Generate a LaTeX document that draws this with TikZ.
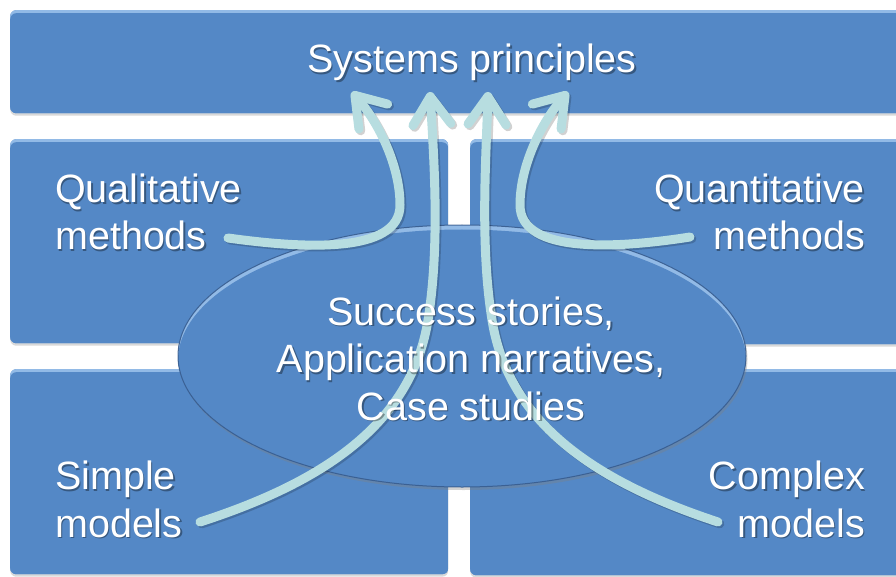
\documentclass[tikz,border=0pt]{standalone}
\usepackage{fontspec}
\setmainfont{Liberation Sans}
\usetikzlibrary{arrows.meta,shadows,shapes.geometric}

\definecolor{panel}{RGB}{84,136,198}
\definecolor{panelhi}{RGB}{146,186,230}
\definecolor{panelrim}{RGB}{52,88,138}
\definecolor{flowc}{RGB}{183,221,224}

\tikzset{
  panelbox/.style={fill=panel, rounded corners=6pt, anchor=north west,
    drop shadow={shadow xshift=0pt, shadow yshift=-2.5pt, opacity=0.3},
    path picture={
      \fill[panelhi] (path picture bounding box.south west) rectangle (path picture bounding box.north east);
      \fill[panel, rounded corners=6pt] ([yshift=-3pt]path picture bounding box.south west) rectangle ([yshift=-3pt]path picture bounding box.north east);
    }},
  corebox/.style={ellipse, fill=panel, draw=panelrim, draw opacity=0.85, line width=1pt,
    minimum width=568pt, minimum height=262pt, inner sep=0pt,
    drop shadow={shadow xshift=1.5pt, shadow yshift=-3pt, opacity=0.35},
    path picture={
      \fill[panelhi] (path picture bounding box.south west) rectangle (path picture bounding box.north east);
      \fill[panel] ([yshift=-4.5pt]path picture bounding box.center) ellipse [x radius=284pt, y radius=131pt];
    }},
  flow/.style={draw=flowc, line width=9pt, line cap=round, line join=round,
    -{Straight Barb[length=28pt, width=38pt, line cap=round, line join=round]}},
  flowshadow/.style={flow, draw=black, opacity=0.18,
    transform canvas={shift={(1.8pt,-1.8pt)}}},
  lbl/.style={text=white, font=\fontsize{39.5}{47.5}\selectfont, inner sep=0pt},
  lblshadow/.style={lbl, text=black, opacity=0.35},
}

% label with a soft offset shadow: name, anchor, alignment, position, text
% (the base anchors sit on the baseline of the last line)
\newcommand\panellabel[5]{%
  \node[lblshadow, anchor=#2, align=#3] at ([shift={(1.6pt,-1.6pt)}]#4) {#5};
  \node[lbl, anchor=#2, align=#3] (#1) at (#4) {#5};}

% connector with a faint shadow underneath
\newcommand\flowarrow[1]{%
  \draw[flowshadow] #1;
  \draw[flow] #1;}

\begin{document}
\begin{tikzpicture}[x=1pt, y=-1pt]
  \useasboundingbox (0,0) rectangle (896,577);

  % panels
  \node[panelbox, minimum width=900pt, minimum height=103pt] (principles) at (10,10) {};
  \node[panelbox, minimum width=438pt, minimum height=204pt] (qual) at (10,139) {};
  \node[panelbox, minimum width=440pt, minimum height=205pt] (quant) at (470,139) {};
  \node[panelbox, minimum width=438pt, minimum height=205pt] (simple) at (10,369) {};
  \node[panelbox, minimum width=440pt, minimum height=206pt] (complex) at (470,369) {};

  % central ellipse
  \node[corebox] (core) at (462,356) {};

  % connector end points
  \coordinate (qlS) at (228,238);
  \coordinate (qlT) at (352,92);
  \coordinate (smS) at (200,522);
  \coordinate (smT) at (430,92);
  \coordinate (cxS) at (718,522);
  \coordinate (cxT) at (488,92);
  \coordinate (qnS) at (690,237);
  \coordinate (qnT) at (568,92);

  % connectors into the principles panel
  \flowarrow{(qlS) .. controls (300,248) and (400,255) .. (400,205) .. controls (400,165) and (378,122) .. (qlT)}
  \flowarrow{(smS) .. controls (330,480) and (412,420) .. (428,320) .. controls (440,245) and (434,160) .. (smT)}
  \flowarrow{(cxS) .. controls (590,480) and (508,420) .. (492,320) .. controls (480,245) and (486,160) .. (cxT)}
  \flowarrow{(qnS) .. controls (620,248) and (520,255) .. (520,205) .. controls (520,165) and (542,122) .. (qnT)}

  % labels
  \panellabel{tprinciples}{base}{center}{472,73}{Systems principles}
  \panellabel{tqual}{base west}{left}{55,250}{Qualitative\\methods}
  \panellabel{tquant}{base east}{right}{865,250}{Quantitative\\methods}
  \panellabel{tsimple}{base west}{left}{55,537}{Simple\\models}
  \panellabel{tcomplex}{base east}{right}{865,537}{Complex\\models}
  \panellabel{tcore}{base}{center}{471,420}{Success stories,\\Application narratives,\\Case studies}
\end{tikzpicture}
\end{document}
